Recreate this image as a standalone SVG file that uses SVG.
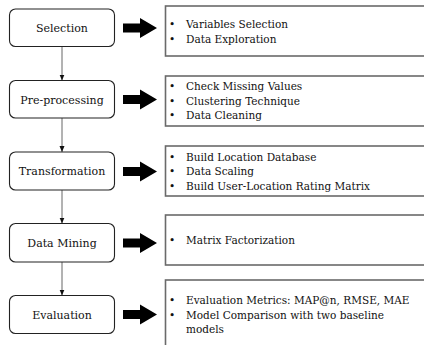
<svg xmlns="http://www.w3.org/2000/svg" width="424" height="345" viewBox="0 0 424 345">
<defs>
<style>
.step{fill:#fff;stroke:#222;stroke-width:1.1}
.info{fill:#fff;stroke:#6a6a6a;stroke-width:1.6}
.lbl{font-family:"DejaVu Serif","Liberation Serif",serif;font-size:11px;fill:#111;text-anchor:middle}
.txt{font-family:"DejaVu Serif","Liberation Serif",serif;font-size:10.5px;fill:#111}
.conn{stroke:#666;stroke-width:1;fill:none;marker-end:url(#ah)}
.big{fill:#000}
</style>
<marker id="ah" viewBox="0 0 6 6" refX="6" refY="3" markerWidth="6" markerHeight="6" markerUnits="userSpaceOnUse" orient="auto">
<path d="M0,0.5 L6,3 L0,5.5 Z" fill="#111"/>
</marker>
</defs>
<rect width="424" height="345" fill="#fff"/>
<g id="connectors">
<line class="conn" x1="62" y1="46.5" x2="62" y2="80.5"/>
<line class="conn" x1="62" y1="118" x2="62" y2="152"/>
<line class="conn" x1="62" y1="190" x2="62" y2="223.5"/>
<line class="conn" x1="62" y1="262" x2="62" y2="295.5"/>
</g>
<g id="selection">
<rect class="step" x="9.5" y="9" width="105" height="37.5" rx="6"/>
<text class="lbl" x="62" y="32">Selection</text>
</g>
<g id="preprocessing">
<rect class="step" x="9.5" y="80.5" width="105" height="37.5" rx="6"/>
<text class="lbl" x="62" y="103.5">Pre-processing</text>
</g>
<g id="transformation">
<rect class="step" x="9.5" y="152" width="105" height="38" rx="6"/>
<text class="lbl" x="62" y="175">Transformation</text>
</g>
<g id="datamining">
<rect class="step" x="9.5" y="223.5" width="105" height="38.5" rx="6"/>
<text class="lbl" x="62" y="247">Data Mining</text>
</g>
<g id="evaluation">
<rect class="step" x="9.5" y="295.5" width="105" height="38" rx="6"/>
<text class="lbl" x="62" y="318.5">Evaluation</text>
</g>
<g id="arrows">
<path class="big" d="M123,23.5 H140 V18 L157,28 L140,38 V32.5 H123 Z"/>
<path class="big" d="M123,95 H140 V89.5 L157,99.5 L140,109.5 V104 H123 Z"/>
<path class="big" d="M123,167 H140 V161.5 L157,171.5 L140,181.5 V176 H123 Z"/>
<path class="big" d="M123,238.5 H140 V233 L157,243 L140,253 V247.5 H123 Z"/>
<path class="big" d="M123,310 H140 V304.5 L157,314.5 L140,324.5 V319 H123 Z"/>
</g>
<g id="info-selection">
<rect class="info" x="165.5" y="6" width="262" height="50"/>
<text class="txt" x="169" y="28">•</text><text class="txt" x="186" y="28">Variables Selection</text>
<text class="txt" x="169" y="43">•</text><text class="txt" x="186" y="43">Data Exploration</text>
</g>
<g id="info-preprocessing">
<rect class="info" x="165.5" y="76" width="262" height="50"/>
<text class="txt" x="169" y="90">•</text><text class="txt" x="186" y="90">Check Missing Values</text>
<text class="txt" x="169" y="104.5">•</text><text class="txt" x="186" y="104.5">Clustering Technique</text>
<text class="txt" x="169" y="119">•</text><text class="txt" x="186" y="119">Data Cleaning</text>
</g>
<g id="info-transformation">
<rect class="info" x="165.5" y="146" width="262" height="50"/>
<text class="txt" x="169" y="160.5">•</text><text class="txt" x="186" y="160.5">Build Location Database</text>
<text class="txt" x="169" y="175">•</text><text class="txt" x="186" y="175">Data Scaling</text>
<text class="txt" x="169" y="189.5">•</text><text class="txt" x="186" y="189.5">Build User-Location Rating Matrix</text>
</g>
<g id="info-datamining">
<rect class="info" x="165.5" y="215" width="262" height="50"/>
<text class="txt" x="169" y="244">•</text><text class="txt" x="186" y="244">Matrix Factorization</text>
</g>
<g id="info-evaluation">
<rect class="info" x="165.5" y="280" width="262" height="80"/>
<text class="txt" x="169" y="304">•</text><text class="txt" x="186" y="304">Evaluation Metrics: MAP@n, RMSE, MAE</text>
<text class="txt" x="169" y="318.5">•</text><text class="txt" x="186" y="318.5">Model Comparison with two baseline</text>
<text class="txt" x="186" y="333">models</text>
</g>
</svg>
